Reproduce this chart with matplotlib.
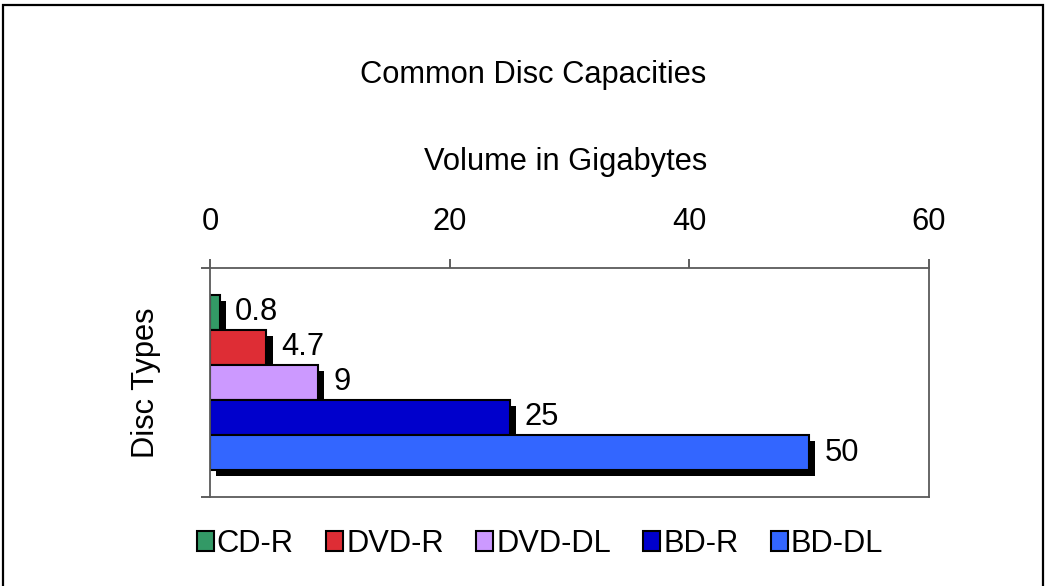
import numpy as np
import matplotlib
matplotlib.use("Agg")
import matplotlib.pyplot as plt
import matplotlib.patheffects as pe
from matplotlib.patches import Patch, Rectangle

# --------------------------------------------------
# Data
# --------------------------------------------------
disc_types = ["CD-R", "DVD-R", "DVD-DL", "BD-R", "BD-DL"]
capacity_gb = [0.8, 4.7, 9, 25, 50]
colors = ["#339966", "#DE2D35", "#CC99FF", "#0000CC", "#3366FF"]
x_ticks = [0, 20, 40, 60]

plt.rcParams["font.family"] = ["Liberation Sans", "DejaVu Sans"]
FS = 22.2

# --------------------------------------------------
# Plot
# --------------------------------------------------
fig = plt.figure(figsize=(10.49, 5.86), dpi=100)
ax = fig.add_axes([0.2002, 0.1519, 0.6854, 0.3908])

ypos = np.arange(len(disc_types))
shadow = [pe.SimplePatchShadow(offset=(4.5, -4.5), shadow_rgbFace="black", alpha=1.0),
          pe.Normal()]
for y, val, name, col in zip(ypos, capacity_gb, disc_types, colors):
    bars = ax.barh(y, val, height=1.0, color=col, edgecolor="black",
                   linewidth=1.5, label=name, path_effects=shadow)
    ax.bar_label(bars, fmt="%g", padding=11, fontsize=FS)

ax.set_xlim(0, 60)
ax.set_ylim(len(disc_types) - 0.5 + 0.77, -0.5 - 0.77)
ax.set_xticks(x_ticks)
ax.xaxis.tick_top()
ax.tick_params(axis="x", direction="out", length=6.5, width=1.1,
               color="#333333", labelsize=FS, pad=16)
ax.set_yticks(ax.get_ylim())
ax.set_yticklabels([])
ax.tick_params(axis="y", direction="out", length=6.5, width=1.1, color="#333333")
for sp in ax.spines.values():
    sp.set_color("#5a5a5a")
    sp.set_linewidth(1.3)

ax.xaxis.set_label_position("top")
ax.set_xlabel("Volume in Gigabytes", fontsize=FS)
ax.xaxis.label.set_verticalalignment("baseline")
ax.xaxis.set_label_coords(0.495, 1.428)
ax.set_ylabel("Disc Types", fontsize=FS)
ax.yaxis.set_label_coords(-0.068, 0.5)

fig.text(533 / 1049, 1 - 83 / 586, "Common Disc Capacities", fontsize=FS,
         ha="center", va="baseline")

handles = [Patch(facecolor=c, edgecolor="black", linewidth=1.5, label=n)
           for n, c in zip(disc_types, colors)]
fig.legend(handles=handles, loc="center", bbox_to_anchor=(540 / 1049, 1 - 544 / 586),
           ncol=len(disc_types), frameon=False, fontsize=FS,
           handlelength=0.55, handleheight=0.6, handletextpad=0.1,
           columnspacing=1.05, borderpad=0)

# outer frame
fig.patches.append(Rectangle((3 / 1049, -0.05), 1040 / 1049, 1.05 - 5 / 586,
                             transform=fig.transFigure, fill=False,
                             edgecolor="black", linewidth=1.6))

fig.savefig("out.png", dpi=100)
